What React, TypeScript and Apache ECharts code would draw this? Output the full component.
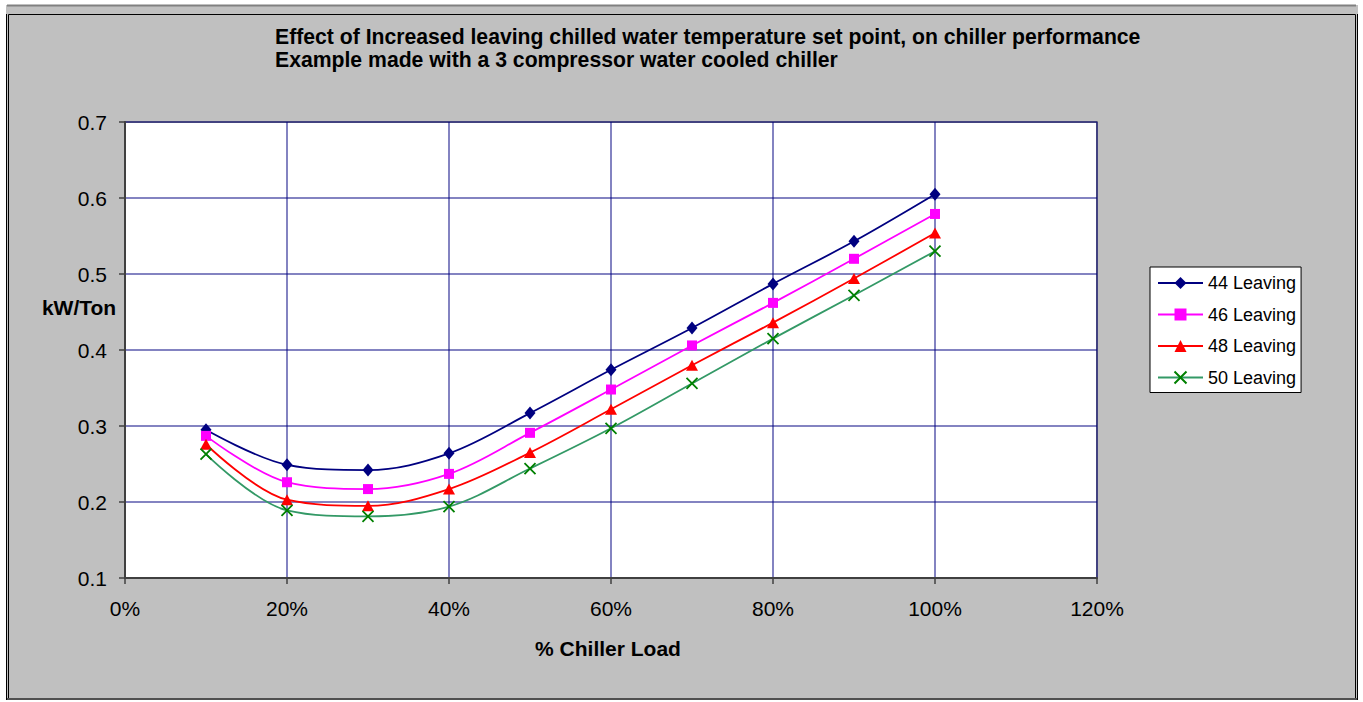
import React, { useEffect, useRef } from "react";
import * as echarts from "echarts";

const loads = [0.1, 0.2, 0.3, 0.4, 0.5, 0.6, 0.7, 0.8, 0.9, 1.0];
const leaving44 = [0.295, 0.249, 0.242, 0.264, 0.317, 0.374, 0.429, 0.487, 0.543, 0.605];
const leaving46 = [0.287, 0.226, 0.217, 0.237, 0.291, 0.348, 0.406, 0.462, 0.52, 0.579];
const leaving48 = [0.276, 0.203, 0.195, 0.217, 0.265, 0.322, 0.38, 0.436, 0.494, 0.554];
const leaving50 = [0.263, 0.189, 0.181, 0.194, 0.244, 0.297, 0.356, 0.415, 0.472, 0.53];
const seriesNames = ["44 Leaving", "46 Leaving", "48 Leaving", "50 Leaving"];
const titleLines = [
  "Effect of Increased leaving chilled water temperature set point, on chiller performance",
  "Example made with a 3 compressor water cooled chiller",
];
const xAxisTitle = "% Chiller Load";
const yAxisTitle = "kW/Ton";

const FONT = "'Liberation Sans', Arial, sans-serif";

function pairs(ys: number[]) {
  return loads.map((x, i) => [x, ys[i]]);
}

export default function App() {
  const ref = useRef<HTMLDivElement>(null);
  useEffect(() => {
    if (!ref.current) return;
    const chart = echarts.init(ref.current, undefined, { renderer: "svg" });
    const smooth = 0.35;
    const lineW = 1.8;
    chart.setOption({
      animation: false,
      backgroundColor: "#c0c0c0",
      textStyle: { fontFamily: FONT },
      title: {
        text: titleLines.join("\n"),
        left: 275,
        top: 25,
        padding: 0,
        textStyle: {
          fontFamily: FONT,
          fontSize: 21.2,
          fontWeight: "bold",
          lineHeight: 23,
          color: "#000",
        },
      },
      grid: {
        left: 125,
        top: 122,
        width: 972,
        height: 456,
        show: true,
        backgroundColor: "#ffffff",
        borderColor: "#808080",
        borderWidth: 2,
      },
      legend: {
        orient: "vertical",
        left: 1150,
        top: 267,
        padding: [6, 5, 5, 7],
        itemWidth: 45,
        itemHeight: 15,
        itemGap: 11.5,
        backgroundColor: "#ffffff",
        borderColor: "#000000",
        borderWidth: 1,
        borderRadius: 0,
        textStyle: { fontFamily: FONT, fontSize: 18, color: "#000", lineHeight: 20 },
        data: seriesNames,
      },
      xAxis: {
        type: "value",
        min: 0,
        max: 1.2,
        interval: 0.2,
        axisLine: { show: true, lineStyle: { color: "#404040", width: 2 } },
        axisTick: { show: true, inside: false, length: 6, lineStyle: { color: "#404040", width: 1.5 } },
        axisLabel: {
          margin: 20,
          fontFamily: FONT,
          fontSize: 21,
          color: "#000",
          formatter: (v: number) => Math.round(v * 100) + "%",
        },
        splitLine: { show: true, lineStyle: { color: "rgba(0,0,128,0.65)", width: 1.5 } },
      },
      yAxis: {
        type: "value",
        min: 0.1,
        max: 0.7,
        interval: 0.1,
        axisLine: { show: true, lineStyle: { color: "#404040", width: 2 } },
        axisTick: { show: true, inside: false, length: 6, lineStyle: { color: "#404040", width: 1.5 } },
        axisLabel: {
          margin: 18,
          fontFamily: FONT,
          fontSize: 21,
          color: "#000",
          formatter: (v: number) => v.toFixed(1),
        },
        splitLine: { show: true, lineStyle: { color: "rgba(0,0,128,0.65)", width: 1.5 } },
      },
      series: [
        {
          name: seriesNames[0],
          type: "line",
          smooth,
          data: pairs(leaving44),
          symbol: "diamond",
          symbolSize: [11, 13],
          lineStyle: { color: "#000080", width: lineW },
          itemStyle: { color: "#000080" },
        },
        {
          name: seriesNames[1],
          type: "line",
          smooth,
          data: pairs(leaving46),
          symbol: "rect",
          symbolSize: 10,
          lineStyle: { color: "#ff00ff", width: lineW },
          itemStyle: { color: "#ff00ff" },
        },
        {
          name: seriesNames[2],
          type: "line",
          smooth,
          data: pairs(leaving48),
          symbol: "triangle",
          symbolSize: [12, 11],
          lineStyle: { color: "#ff0000", width: lineW },
          itemStyle: { color: "#ff0000" },
        },
        {
          name: seriesNames[3],
          type: "line",
          smooth,
          data: pairs(leaving50),
          symbol: "path://M0,0L10,10M10,0L0,10",
          symbolSize: 11,
          lineStyle: { color: "#339966", width: lineW },
          itemStyle: { color: "#008000", borderColor: "#008000", borderWidth: 1.8 },
        },
      ],
      graphic: [
        { type: "rect", silent: true, z: 100, shape: { x: 0, y: 0, width: 1363, height: 5 }, style: { fill: "#fff" } },
        { type: "rect", silent: true, z: 100, shape: { x: 0, y: 0, width: 6, height: 702 }, style: { fill: "#fff" } },
        { type: "rect", silent: true, z: 100, shape: { x: 1358, y: 0, width: 5, height: 702 }, style: { fill: "#fff" } },
        { type: "rect", silent: true, z: 100, shape: { x: 0, y: 700, width: 1363, height: 2 }, style: { fill: "#fff" } },
        { type: "line", silent: true, z: 101, shape: { x1: 7, y1: 5.5, x2: 1356, y2: 5.5 }, style: { stroke: "#808080", lineWidth: 2 } },
        { type: "rect", silent: true, z: 101, shape: { x: 8.5, y: 14.5, width: 1347, height: 684 }, style: { fill: "none", stroke: "#000", lineWidth: 1 } },
        { type: "line", silent: true, z: 101, shape: { x1: 6.5, y1: 14, x2: 6.5, y2: 700 }, style: { stroke: "#000", lineWidth: 1 } },
        { type: "line", silent: true, z: 101, shape: { x1: 1357.5, y1: 14, x2: 1357.5, y2: 700 }, style: { stroke: "#000", lineWidth: 1 } },
        { type: "line", silent: true, z: 101, shape: { x1: 7, y1: 699, x2: 1357, y2: 699 }, style: { stroke: "#505050", lineWidth: 2 } },
        {
          type: "text",
          silent: true,
          z: 101,
          x: 79,
          y: 307,
          style: {
            text: yAxisTitle,
            fontFamily: FONT,
            fontSize: 21,
            fontWeight: "bold",
            fill: "#000",
            align: "center",
            verticalAlign: "middle",
          },
        },
        {
          type: "text",
          silent: true,
          z: 101,
          x: 608,
          y: 648,
          style: {
            text: xAxisTitle,
            fontFamily: FONT,
            fontSize: 21,
            fontWeight: "bold",
            fill: "#000",
            align: "center",
            verticalAlign: "middle",
          },
        },
      ],
    });
    return () => chart.dispose();
  }, []);
  return (
    <div
      ref={ref}
      style={{ position: "absolute", left: 0, top: 0, width: 1363, height: 702 }}
    />
  );
}
